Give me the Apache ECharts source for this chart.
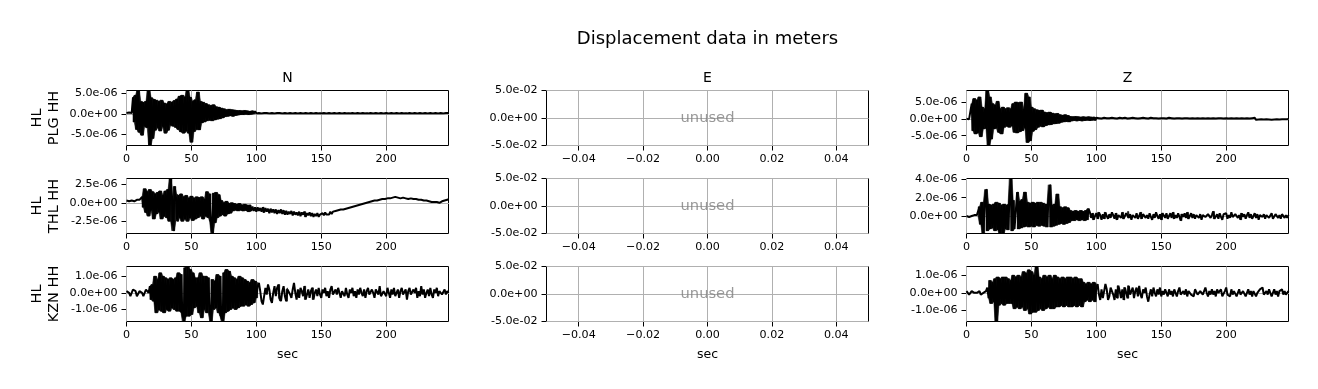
<!DOCTYPE html>
<html><head><meta charset="utf-8">
<script src="https://cdn.jsdelivr.net/npm/echarts@6/dist/echarts.min.js"></script>
<style>html,body{margin:0;padding:0;background:#fff}#c{width:1318px;height:389px}</style>
</head><body><div id="c"></div>
<script>
// ---------------- data (values in units of 1e-7 m, one sample per second) ----------------
const DT = 1;            // seconds between samples
const UNIT = 1e-7;       // metres per stored unit
const T_MAX = 248;       // seconds shown on time axes
const suptitle = 'Displacement data in meters';
const components = ['N', 'E', 'Z'];
const stations = ['HL\nPLG HH', 'HL\nTHL HH', 'HL\nKZN HH'];
const xLabel = 'sec';
const unusedLabel = 'unused';
const timeTicks = [0, 50, 100, 150, 200];
const unusedXTicks = [-0.04, -0.02, 0, 0.02, 0.04];
const unusedYTicks = [-0.05, 0, 0.05];
const unusedRange = [-0.05, 0.05];

const plgN = [
 2,1,3,2,2,40,-20,45,-38,57,
 -45,30,-52,28,-30,30,-34,57,-77,39,
 -60,35,-40,33,-34,30,-42,33,-30,26,
 -47,24,-40,30,-28,28,-30,32,-33,36,
 -38,43,-44,45,-47,40,-42,57,-47,40,
 -69,30,-43,34,-38,53,-39,30,-22,28,
 -20,25,-17,22,-16,20,-17,22,-15,17,
 -13,16,-12,14,-10,12,-7,10,-6,11,
 -5,10,-6,9,-4,8,-3,8,-2,7,
 -2,8,-1,7,-2,6,-1,7,0,6,
 1,5,2,4,1,5,2,4,2,5,
 1,4,2,5,1,4,2,5,2,4,
 1,5,2,4,1,5,2,4,1,4,
 2,5,1,4,2,5,1,4,2,4,
 1,4,2,4,1,4,2,4,1,3,
 1,3,2,3,1,3,2,3,1,3,
 2,3,1,3,2,3,1,3,2,3,
 1,3,1,3,2,3,1,3,2,3,
 1,3,2,3,1,3,1,3,2,3,
 1,3,2,3,1,3,2,3,1,3,
 2,3,1,3,2,3,1,3,2,3,
 1,3,2,3,1,3,1,3,2,3,
 1,3,2,3,1,3,2,3,1,3,
 2,3,1,3,2,3,1,3,2,3,
 1,3,2,3,1,3,2,3,2
];
const thlN = [
 3,4,2,4,3,4,2,3,4,3,4,3,
 8,-6,
 19,-13,15,-18,18,-10,
 15,-22,12,-15,14,-12,
 16,-22,10,-18,16,-20,
 18,-25,33,10,-38,22,
 12,-25,10,-20,12,-25,
 8,-22,10,-25,6,-20,9,-24,
 6,-22,8,-20,7,-18,8,-22,5,-18,
 15,-20,12,-25,-41,13,
 -27,14,-20,11,
 -18,3,-16,0,-18,2,-15,-1,-14,0,
 -11,-1,-10,-2,-11,-1,-10,-3,-11,-2,-10,-3,-12,-3,-11,
 -5,-11,-6,-12,-6,-11,-7,-12,-6,-13,
 -7,-12,-8,-14,-8,-13,-9,-14,-9,-15,
 -10,-14,-9,-15,-10,-16,
 -11,-16,-12,-15,-11,-17,-12,-16,-13,-17,
 -12,-18,-13,-16,-12,-19,-14,-17,-13,-18,
 -14,-19,-15,-18,-14,-19,-16,
 -18,-14,-17,-13,-16,-14,-16,-12,-15,-12,-14,-11,
 -13,-10,-12,-9,-11,-9,-10,-8,-9,-7,-8,-6,-7,
 -5,-6,-4,-5,-3,-4,-2,-3,-1,-2,0,-1,1,
 0,2,1,3,2,3,2,4,3,5,4,5,4,
 6,5,6,5,7,6,8,6,7,8,6,8,7,
 8,6,7,5,7,6,8,5,6,5,7,4,6,
 4,5,3,5,3,4,2,3,1,2,1,0,1,-1,0,
 1,2,2,3,4,4,5
];
const kznN = [
 1,2,0,-2,-1,2,3,1,-2,-2,1,2,0,-2,-1,2,3,0,
 4,-4,5,-5,
 10,-12,8,-10,
 12,-11,10,-12,
 9,-10,8,-11,9,-9,8,-10,9,-11,
 12,-11,11,-12,
 -17,15,-14,16,
 -14,14,-13,12,
 -9,9,-8,9,
 -12,12,-15,10,
 -10,10,-12,9,-11,-17,
 8,-10,7,-9,
 11,-12,10,-14,
 -17,12,-12,14,-11,13,
 -10,10,-9,9,-10,8,-9,10,-8,9,
 -8,8,-7,7,-8,6,-7,8,-6,7,
 -3,4,6,1,-5,-7,-2,3,-1,5,
 2,-4,-6,0,4,-2,3,5,-3,-5,
 1,4,-2,-5,2,3,-1,-3,2,6,
 0,-4,2,-3,3,1,-2,4,-4,-1,
 2,-3,1,3,-4,0,2,-2,3,-1,
 -3,2,0,3,-2,1,-3,2,4,-1,
 -2,2,-1,3,0,-3,1,2,-2,3,
 -1,-3,2,0,3,-2,1,-3,2,-1,
 3,0,-2,2,-3,1,3,-1,-2,2,
 0,-3,2,3,-1,4,-2,-3,1,2,
 -2,3,0,-3,2,-1,3,-2,0,2,
 -3,1,3,-1,-2,2,-4,1,3,-1,
 -2,2,0,3,-3,1,-2,4,-1,2,
 -3,0,2,-2,3,-1,-3,2,0,3,
 -2,1,2,-1,0,2,-1,1,0
];
const plgZ = [
 0,1,-1,0,
 45,-35,
 60,-45,55,-40,
 65,-53,
 35,-30,30,-28,
 84,-78,
 65,-60,
 45,-30,40,-28,
 52,-40,
 30,-45,
 35,-25,30,-22,33,-25,30,-20,
 45,-40,50,-42,48,-38,50,-35,
 30,-25,
 76,-70,
 65,-65,
 35,-37,30,-32,
 27,-25,25,-22,26,-24,
 20,-20,18,-18,20,-17,
 17,-15,15,-14,16,-13,
 12,-10,11,-9,12,-8,10,-9,
 7,-6,6,-5,7,-6,6,-5,5,-6,6,-5,5,-4,6,-5,5,-4,5,-4,
 3,-2,2,-3,1,-2,3,-1,2,-3,
 2,-2,3,-1,2,-3,1,-2,3,-2,
 2,-1,3,-2,1,-3,2,-2,3,-1,
 2,-3,1,-2,2,-1,3,-2,2,-2,
 1,-2,3,-2,2,-1,2,-3,1,-2,
 2,-1,2,-2,1,-2,3,-1,2,-2,
 1,-2,2,-1,2,-2,1,-1,2,-2,
 2,-1,1,-2,2,-2,1,-1,2,-1,
 1,-2,2,-1,1,-2,2,-1,1,-2,
 2,-1,1,-2,2,-1,2,-2,1,-1,
 2,-2,1,-1,2,-1,1,-2,2,-1,
 1,-2,2,-1,1,-1,2,-2,1,-1,
 2,-1,3,-3,1,-2,2,-1,1,-2,
 2,-1,1,-2,2,-3,1,-2,2,-1,
 1,-2,2,-1,1,-1,2,-1,0
];
const thlZ = [
 0,1,-1,1,0,-1,1,0,1,-1,
 10,-9,
 15,-19,14,29,
 -16,13,-14,12,-13,13,
 -16,15,-15,14,-19,12,
 -19,13,-14,12,-15,13,
 41,-16,17,-14,
 -12,26,-14,16,-13,18,
 -12,26,-11,15,-12,14,-11,15,-12,14,-10,15,
 -11,15,-10,14,-11,13,
 -12,13,34,-12,12,-11,13,-10,
 24,-9,10,-8,9,-9,10,-8,9,-7,
 6,-5,5,-5,6,-4,5,-5,6,-4,5,-5,6,-4,8,
 4,-2,3,-4,0,3,-3,4,1,-4,
 2,-3,4,0,-3,2,-2,4,1,-3,
 3,-4,1,3,-2,4,-3,-1,3,5,
 -2,2,-4,1,3,-2,3,-3,0,4,
 -3,2,4,-2,1,-3,3,-1,-4,2,
 -2,4,0,-3,2,-4,3,1,-2,3,
 -3,0,3,-2,4,-3,1,-2,3,-1,
 -5,2,-1,3,-2,4,-3,0,3,-2,
 2,-3,1,3,-2,2,-4,1,3,-1,
 -3,2,4,-2,1,5,-3,-1,2,-3,
 3,-1,-4,2,0,3,-3,1,-2,4,
 -1,-3,2,3,-2,1,-4,3,-1,2,
 -3,1,4,-2,2,-3,0,3,-2,2,
 -4,1,3,-1,2,-3,1,3,-2,0,
 3,-3,-1,2,3,-2,1,-3,2,3,
 -2,1,-2,1
];
const kznZ = [
 1,0,-1,-1,1,1,0,-1,0,1,1,-1,-1,0,1,1,
 3,-3,
 7,-6,6,-5,
 8,-16,
 9,-7,8,-6,9,-7,
 9,-6,8,-6,7,-6,
 10,-9,9,-8,10,-9,9,-8,
 12,-10,11,-9,
 13,-12,12,-11,
 10,-11,
 15,
 -10,9,-9,8,-10,
 10,-9,9,-8,10,-9,8,-9,10,-8,
 9,-8,8,-7,9,-8,8,-7,9,-8,
 9,-8,8,-7,9,-8,8,-7,8,-8,
 6,-5,5,-4,6,-5,5,-4,6,-5,
 3,5,-1,-4,2,-3,1,5,2,-4,
 -2,3,4,-1,-4,2,-3,4,1,-3,
 2,-4,3,0,-3,4,-1,-2,3,-3,
 1,3,-2,4,-1,-3,2,0,3,-2,
 -5,-1,2,-2,3,0,-2,2,-1,3,
 -2,1,-1,2,0,-2,2,-1,1,-2,
 2,0,-2,1,3,-1,-2,1,-1,2,
 -2,1,2,-1,0,-2,2,1,-1,-2,
 1,2,-1,-2,3,0,-2,1,-1,2,
 -1,1,-2,2,0,-1,2,-2,-3,1,
 3,-1,0,-2,2,-1,1,2,-2,0,
 2,-1,-2,1,2,-2,0,2,-1,1,
 -2,1,2,-2,0,-1,2,1,3,-1,
 -2,1,-1,2,1,-2,0,2,-1,1,
 -2,1,0,2,-1,1,-1,0,1
];

// y-axis extents (metres) and tick values
const plgN_range = [-7.7e-6, 5.65e-6], plgN_ticks = [-5e-6, 0, 5e-6];
const thlN_range = [-4.15e-6, 3.28e-6], thlN_ticks = [-2.5e-6, 0, 2.5e-6];
const kznN_range = [-1.72e-6, 1.58e-6], kznN_ticks = [-1e-6, 0, 1e-6];
const plgZ_range = [-7.9e-6, 8.4e-6],   plgZ_ticks = [-5e-6, 0, 5e-6];
const thlZ_range = [-1.9e-6, 4.08e-6],  thlZ_ticks = [0, 2e-6, 4e-6];
const kznZ_range = [-1.62e-6, 1.49e-6], kznZ_ticks = [-1e-6, 0, 1e-6];

// ---------------- chart ----------------
const FONT = 'DejaVu Sans';
const colLeft = [126.5, 546.5, 966.5], rowTop = [90.5, 178.5, 266.5];
const W = 322, H = 55;

function fmtExp(v) {
  if (Math.abs(v) < 1e-15) return '0.0e+00';
  const s = v.toExponential(1).split('e');
  let e = s[1], sign = e[0] === '-' ? '-' : '+';
  e = e.replace(/[+-]/, '');
  if (e.length < 2) e = '0' + e;
  return s[0] + 'e' + sign + e;
}
function fmtFix(v) { return (v < -1e-12 ? '\u2212' : '') + Math.abs(v).toFixed(2); }
// local extent of the trace around each sample (the dense waveform is drawn solid between them)
function envelope(vals) {
  const lo = [], hi = [];
  for (let i = 0; i < vals.length; i++) {
    const a = vals[Math.max(0, i - 1)], b = vals[i], c = vals[Math.min(vals.length - 1, i + 1)];
    lo.push(Math.min(a, b, c)); hi.push(Math.max(a, b, c));
  }
  return { lo, hi };
}
function renderBand(params, api) {
  const pts = [
    api.coord([api.value(0), api.value(2)]),
    api.coord([api.value(3), api.value(5)]),
    api.coord([api.value(3), api.value(4)]),
    api.coord([api.value(0), api.value(1)])
  ];
  return { type: 'polygon', shape: { points: pts },
    style: { fill: '#000', stroke: '#000', lineWidth: 0.5 } };
}

const traces = [
  [plgN, plgN_range, plgN_ticks, plgZ, plgZ_range, plgZ_ticks],
  [thlN, thlN_range, thlN_ticks, thlZ, thlZ_range, thlZ_ticks],
  [kznN, kznN_range, kznN_ticks, kznZ, kznZ_range, kznZ_ticks]
];

const grids = [], xAxes = [], yAxes = [], series = [], titles = [];
titles.push({ text: suptitle, left: 702.5, top: 25, textAlign: 'center',
  textStyle: { fontFamily: FONT, fontSize: 18, fontWeight: 'normal', color: '#000' } });
components.forEach((c, ci) => titles.push({ text: c, left: colLeft[ci] + W / 2 - 5, top: 66, textAlign: 'center',
  textStyle: { fontFamily: FONT, fontSize: 14, fontWeight: 'normal', color: '#000' } }));

const labelStyle = { fontFamily: FONT, fontSize: 11.1, color: '#000' };
const gridLineStyle = { color: '#b0b0b0', width: 1, type: 'solid' };
let idx = 0;
for (let r = 0; r < 3; r++) {
  for (let c = 0; c < 3; c++) {
    grids.push({ left: colLeft[c], top: rowTop[r], width: W, height: H, show: true,
      borderColor: '#000', borderWidth: 1, backgroundColor: 'transparent' });
    const unused = c === 1;
    let vals, range, ticks;
    if (c === 0) { vals = traces[r][0]; range = traces[r][1]; ticks = traces[r][2]; }
    if (c === 2) { vals = traces[r][3]; range = traces[r][4]; ticks = traces[r][5]; }
    const xt = unused ? unusedXTicks : timeTicks;
    const yt = unused ? unusedYTicks : ticks;
    xAxes.push({
      type: 'value', gridIndex: idx,
      min: unused ? unusedRange[0] : 0, max: unused ? unusedRange[1] : T_MAX,
      axisLine: { show: false, onZero: false },
      axisTick: { show: true, inside: false, length: 5, customValues: xt, lineStyle: { color: '#000', width: 1 } },
      axisLabel: { show: true, customValues: xt, margin: 8.5, ...labelStyle,
        formatter: unused ? fmtFix : (v => String(Math.round(v))) },
      splitLine: { show: false },
      name: r === 2 ? xLabel : '', nameLocation: 'middle', nameGap: 27,
      nameTextStyle: { fontFamily: FONT, fontSize: 12.5, color: '#000' }
    });
    yAxes.push({
      type: 'value', gridIndex: idx,
      min: unused ? unusedRange[0] : range[0], max: unused ? unusedRange[1] : range[1],
      axisLine: { show: false, onZero: false },
      axisTick: { show: true, inside: false, length: 5, customValues: yt, lineStyle: { color: '#000', width: 1 } },
      axisLabel: { show: true, customValues: yt, margin: 9, ...labelStyle, formatter: fmtExp },
      splitLine: { show: false },
      name: c === 0 ? stations[r] : '', nameLocation: 'middle', nameGap: 64, nameRotate: 90,
      nameTextStyle: { fontFamily: FONT, fontSize: 14.5, lineHeight: 17, color: '#000', align: 'center' }
    });
    // grid lines at the tick values, drawn beneath the data
    series.push({ type: 'line', xAxisIndex: idx, yAxisIndex: idx, data: [], z: 1, silent: true,
      markLine: { z: 1, silent: true, symbol: 'none', animation: false, label: { show: false },
        lineStyle: gridLineStyle,
        data: xt.map(v => ({ xAxis: v })).concat(yt.map(v => ({ yAxis: v }))) } });
    if (unused) {
      series.push({ type: 'scatter', xAxisIndex: idx, yAxisIndex: idx, data: [[0, 0]],
        symbolSize: 0, silent: true, z: 3,
        label: { show: true, position: 'inside', formatter: unusedLabel,
          fontFamily: FONT, fontSize: 14.7, color: '#808080' } });
    } else {
      const env = envelope(vals);
      const bandData = vals.slice(0, -1).map((v, i) => [
        i * DT, env.lo[i] * UNIT, env.hi[i] * UNIT,
        (i + 1) * DT, env.lo[i + 1] * UNIT, env.hi[i + 1] * UNIT]);
      // only fill where the trace swings fast (sample-to-sample alternation)
      const fast = bandData.map((d, i) => {
        const a = vals[Math.max(0, i - 1)], b = vals[i], cc = vals[i + 1];
        return (b - a) * (cc - b) < 0 && Math.abs(cc - b) > 6;
      });
      series.push({ type: 'custom', xAxisIndex: idx, yAxisIndex: idx, z: 2, silent: true, clip: true,
        data: bandData.filter((d, i) => fast[i]), encode: { x: [0, 3], y: [1, 2, 4, 5] }, renderItem: renderBand });
      series.push({ type: 'line', xAxisIndex: idx, yAxisIndex: idx, z: 3,
        data: vals.map((v, i) => [i * DT, v * UNIT]),
        showSymbol: false, symbol: 'none', silent: true, clip: true,
        lineStyle: { color: '#000', width: 2 } });
    }
    idx++;
  }
}

const chart = echarts.init(document.getElementById('c'), null, { renderer: 'canvas' });
chart.setOption({ animation: false, backgroundColor: '#fff', title: titles,
  grid: grids, xAxis: xAxes, yAxis: yAxes, series: series });
</script>
</body></html>
